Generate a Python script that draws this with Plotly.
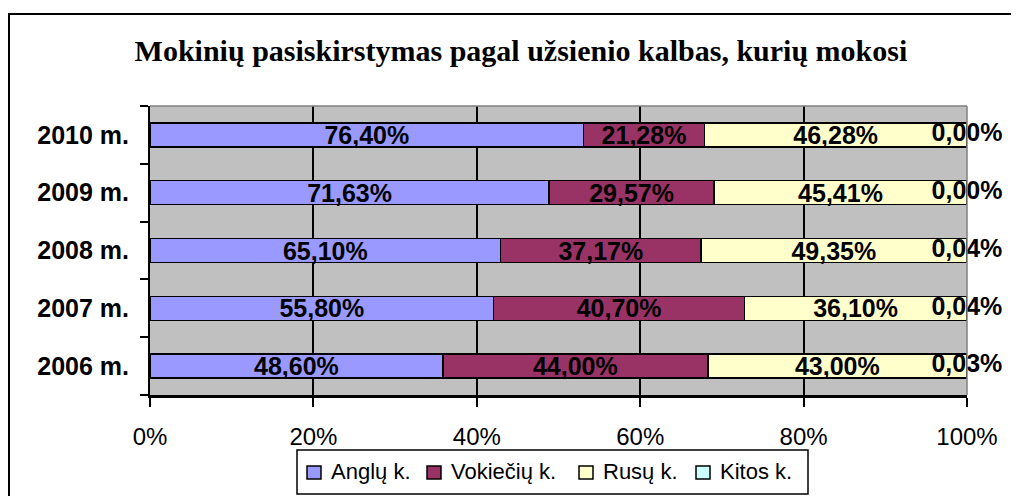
import plotly.graph_objects as go

# Dados (de baixo para cima)
metai = ["2006 m.", "2007 m.", "2008 m.", "2009 m.", "2010 m."]
angly = [48.60, 55.80, 65.10, 71.63, 76.40]
vokieciu = [44.00, 40.70, 37.17, 29.57, 21.28]
rusu = [43.00, 36.10, 49.35, 45.41, 46.28]
kitos = [0.03, 0.04, 0.04, 0.00, 0.00]
x_ticks = [0, 20, 40, 60, 80, 100]
x_tick_labels = ["0%", "20%", "40%", "60%", "80%", "100%"]

serijos = [
    ("Anglų k.", angly, "#9999FF"),
    ("Vokiečių k.", vokieciu, "#993366"),
    ("Rusų k.", rusu, "#FFFFCC"),
    ("Kitos k.", kitos, "#CCFFFF"),
]


def fmt(v):
    return f"{v:.2f}".replace(".", ",") + "%"


# posição da área do gráfico na tela (px) -> coordenadas "paper"
PX_L, PX_R, PX_T, PX_B = 150, 967, 106, 395


def px(sx):
    return (sx - PX_L) / (PX_R - PX_L)


def py(sy):
    return (PX_B - sy) / (PX_B - PX_T)


fonte_rotulo = dict(family="Liberation Sans", size=25, color="black", weight="bold")

fig = go.Figure()
for nome, vals, cor in serijos:
    mostrar = nome != "Kitos k."
    fig.add_trace(go.Bar(
        y=metai, x=vals, name=nome, orientation="h",
        marker=dict(color=cor, line=dict(color="black", width=1.5)),
        text=[fmt(v) for v in vals] if mostrar else None,
        textposition="inside", insidetextanchor="middle",
        constraintext="none", textangle=0,
        textfont=fonte_rotulo,
    ))

# rótulos da série "Kitos" no fim da barra
totais = [a + b + c + d for a, b, c, d in zip(angly, vokieciu, rusu, kitos)]
pos_kitos = [(t - k / 2) / t * 100 for t, k in zip(totais, kitos)]
fig.add_trace(go.Scatter(
    x=pos_kitos, y=metai, mode="text", text=[fmt(v) for v in kitos],
    textposition="middle center", showlegend=False, cliponaxis=False,
    textfont=fonte_rotulo, hoverinfo="skip",
))

# legenda desenhada à mão (estilo Excel)
leg_quad_x = [307, 427, 579, 696]
shapes = [
    dict(type="line", xref="paper", yref="paper", x0=0, x1=1, y0=1, y1=1,
         line=dict(color="#808080", width=1.5)),
    dict(type="line", xref="paper", yref="paper", x0=1, x1=1, y0=0, y1=1,
         line=dict(color="#808080", width=1.5)),
    dict(type="rect", xref="paper", yref="paper", x0=px(9), x1=1.2, y0=-0.6, y1=py(14),
         line=dict(color="black", width=2), fillcolor="rgba(0,0,0,0)"),
    dict(type="rect", xref="paper", yref="paper", x0=px(297), x1=px(808), y0=py(494), y1=py(450),
         line=dict(color="black", width=1.5), fillcolor="white"),
]
annotations = []
for (nome, _, cor), qx in zip(serijos, leg_quad_x):
    shapes.append(dict(type="rect", xref="paper", yref="paper",
                       x0=px(qx), x1=px(qx + 14), y0=py(479), y1=py(466),
                       line=dict(color="black", width=1.5), fillcolor=cor))
    annotations.append(dict(text=nome, xref="paper", yref="paper", x=px(qx + 22), y=py(472),
                            xanchor="left", yanchor="middle", showarrow=False,
                            font=dict(family="Liberation Sans", size=22, color="black")))

fig.update_layout(
    width=1019, height=496,
    barmode="stack", barnorm="percent", bargap=0.585,
    plot_bgcolor="#C0C0C0", paper_bgcolor="white",
    margin=dict(l=142, r=60, t=98, b=109),
    showlegend=False,
    title=dict(
        text="Mokinių pasiskirstymas pagal užsienio kalbas, kurių mokosi",
        font=dict(family="Liberation Serif", size=30, color="black", weight="bold"),
        x=0.5034, xanchor="center", y=0.9153, yanchor="middle",
    ),
    xaxis=dict(
        range=[0, 100], tickmode="array", tickvals=x_ticks, ticktext=x_tick_labels,
        showgrid=True, gridcolor="black", gridwidth=1.5, zeroline=False,
        showline=True, linecolor="black", linewidth=2.5,
        ticks="outside", ticklen=9, tickwidth=1.5, tickcolor="black",
        ticklabelstandoff=9,
        tickfont=dict(family="Liberation Sans", size=24, color="black"),
    ),
    yaxis=dict(
        type="category", tickson="boundaries",
        showline=True, linecolor="black", linewidth=2,
        ticks="outside", ticklen=8, tickwidth=1.5, tickcolor="black",
        showgrid=False, ticklabelstandoff=14,
        tickfont=dict(family="Liberation Sans", size=25, color="black", weight="bold"),
    ),
    shapes=shapes,
    annotations=annotations,
)

fig.write_html("out.html")
